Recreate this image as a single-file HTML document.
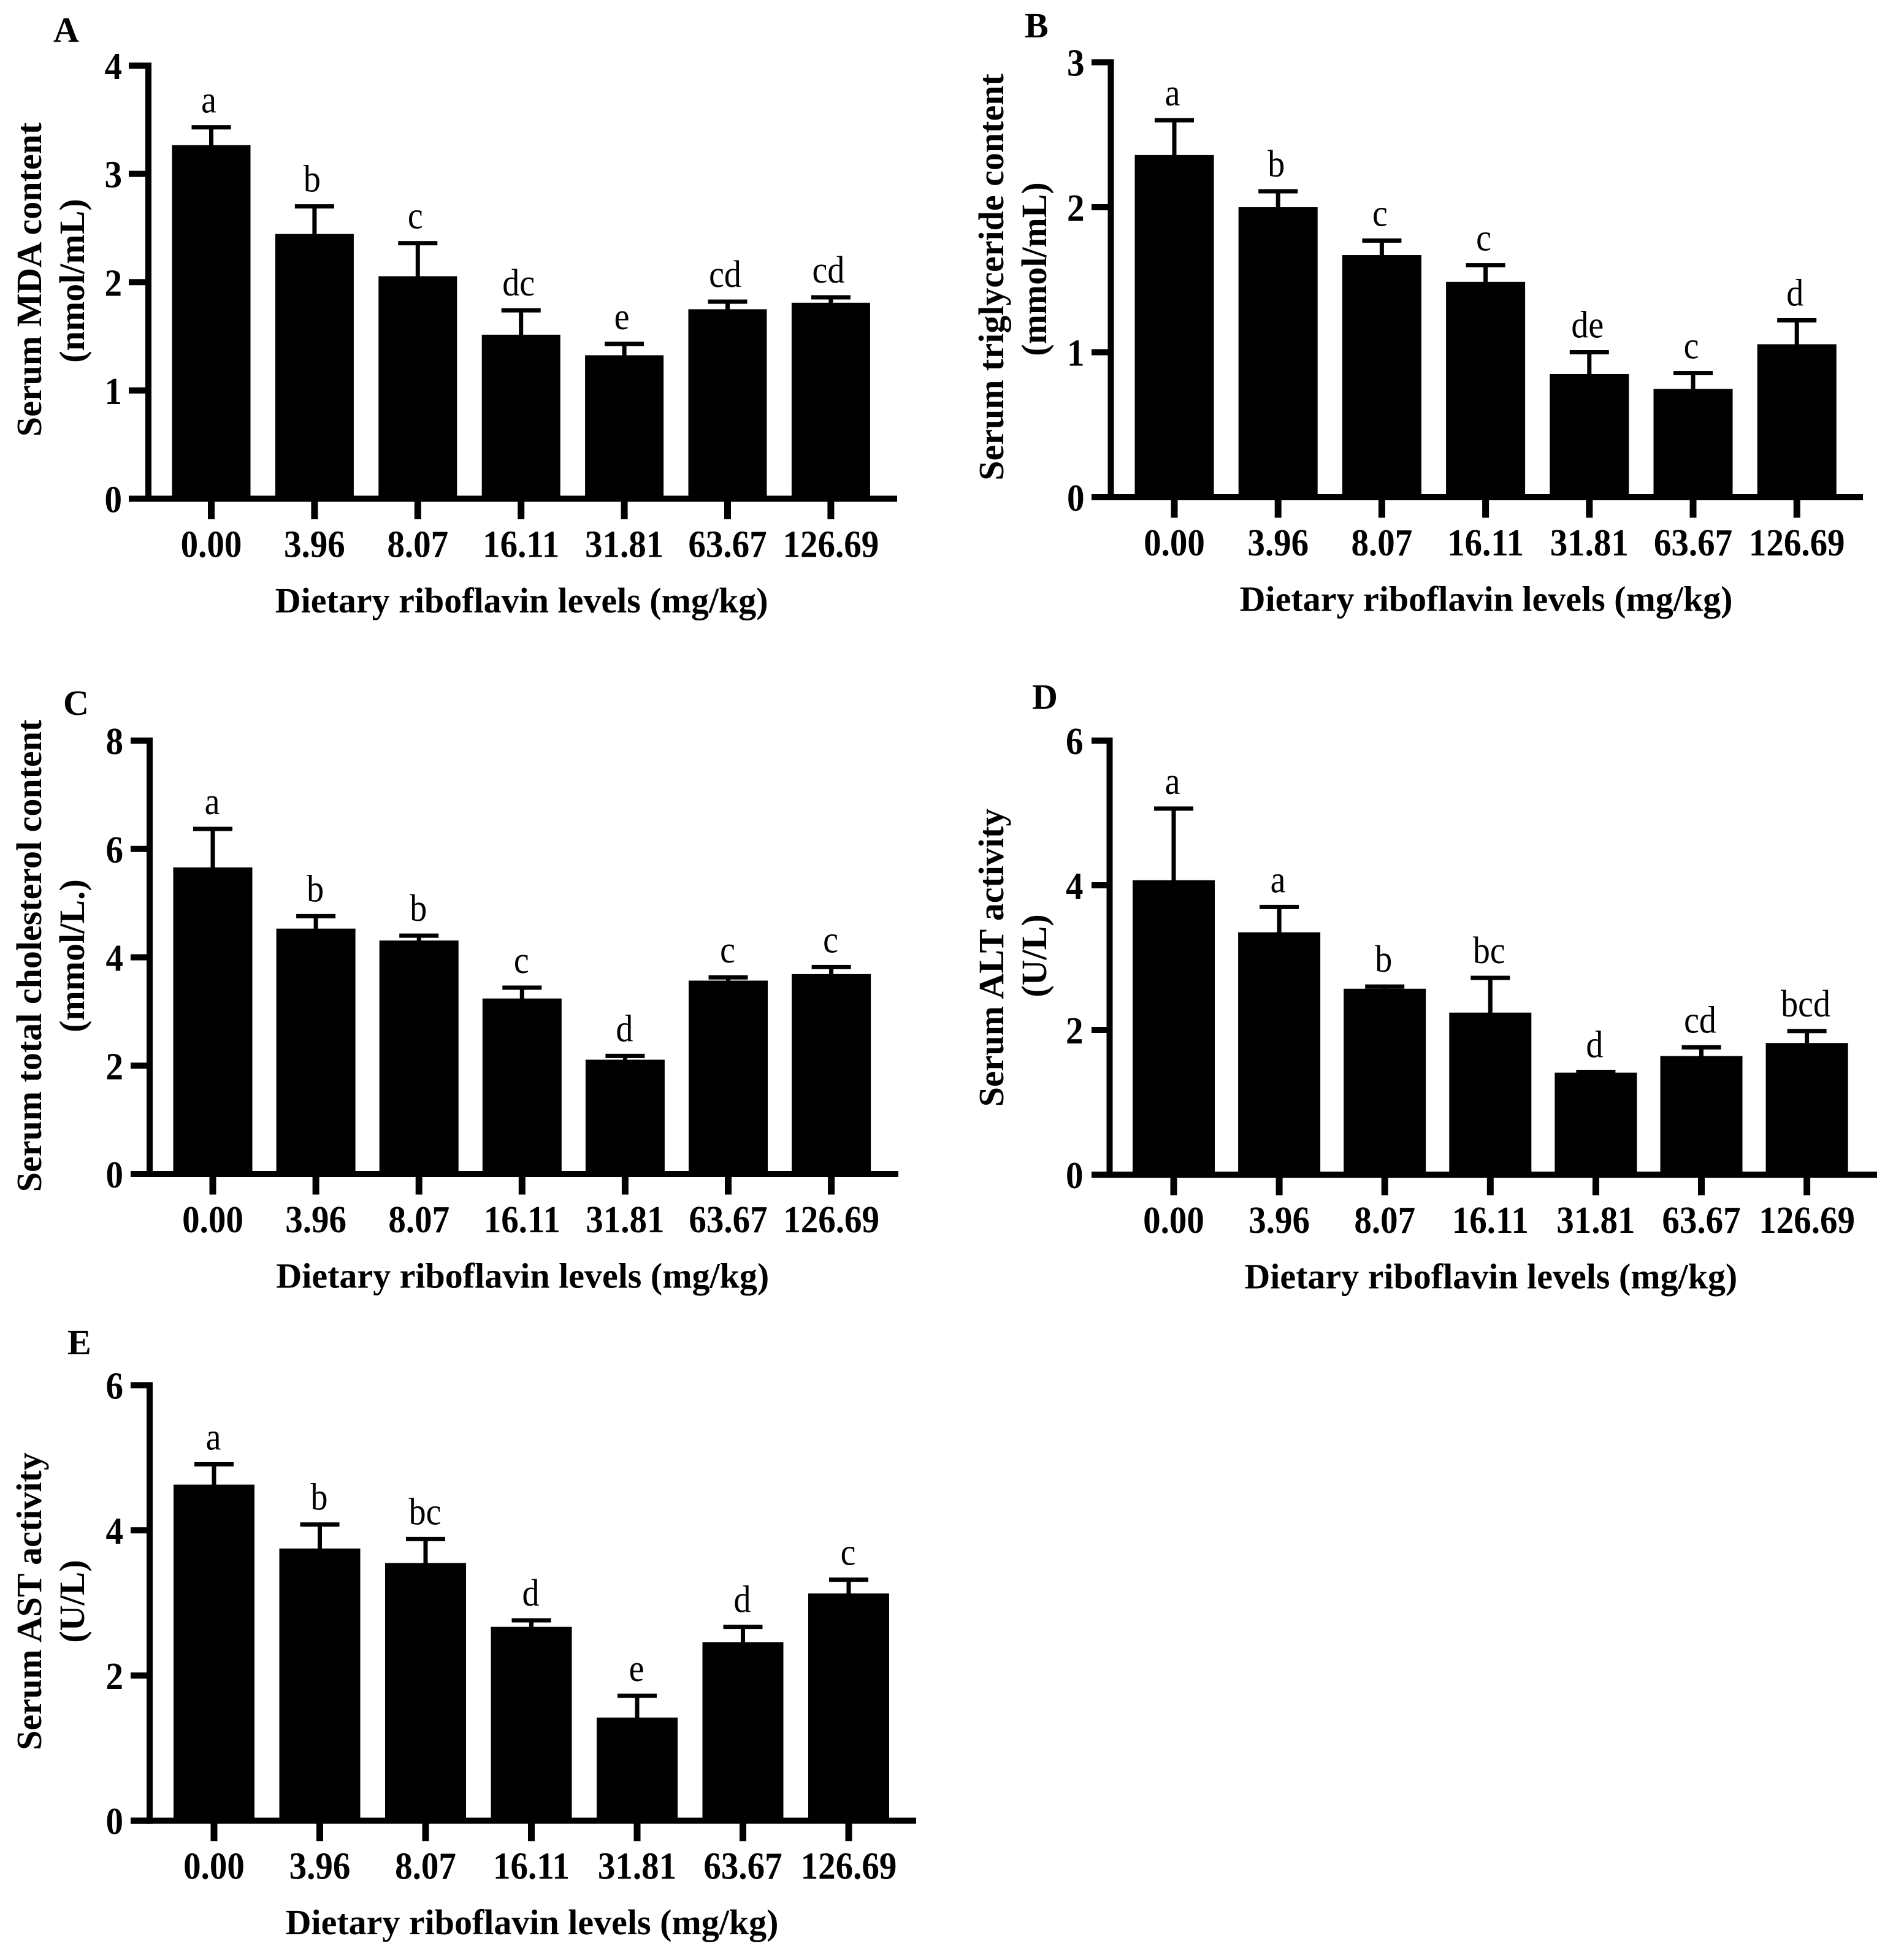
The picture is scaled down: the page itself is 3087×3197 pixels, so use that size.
<!DOCTYPE html>
<html lang="en">
<head>
<meta charset="utf-8">
<title>Serum biochemical indices versus dietary riboflavin levels</title>
<style>
html,body{margin:0;padding:0;background:#fff;}
svg{display:block;}
text{font-family:"Liberation Serif",serif;fill:#000;}
.b{font-weight:bold;}
</style>
</head>
<body>
<svg id="figure" xmlns="http://www.w3.org/2000/svg" width="3087" height="3197" viewBox="0 0 3087 3197">
<rect x="0" y="0" width="3087" height="3197" fill="#fff"/>
</svg>
<script>
const categories = ['0.00','3.96','8.07','16.11','31.81','63.67','126.69'];
const xAxisTitle = 'Dietary riboflavin levels (mg/kg)';

const panelAValues = [3.265,2.445,2.055,1.515,1.325,1.75,1.81];
const panelAErrorTops = [3.43,2.70,2.36,1.74,1.43,1.82,1.86];
const panelALetters = ['a','b','c','dc','e','cd','cd'];
const panelATicks = [0,1,2,3,4];

const panelBValues = [2.36,2.00,1.67,1.485,0.85,0.747,1.055];
const panelBErrorTops = [2.60,2.11,1.77,1.60,1.00,0.856,1.22];
const panelBLetters = ['a','b','c','c','de','c','d'];
const panelBTicks = [0,1,2,3];

const panelCValues = [5.66,4.53,4.31,3.24,2.11,3.57,3.69];
const panelCErrorTops = [6.37,4.76,4.40,3.44,2.18,3.63,3.82];
const panelCLetters = ['a','b','b','c','d','c','c'];
const panelCTicks = [0,2,4,6,8];

const panelDValues = [4.07,3.35,2.57,2.24,1.41,1.64,1.82];
const panelDErrorTops = [5.06,3.70,2.60,2.72,1.42,1.76,1.985];
const panelDLetters = ['a','a','b','bc','d','cd','bcd'];
const panelDTicks = [0,2,4,6];

const panelEValues = [4.63,3.75,3.55,2.67,1.42,2.46,3.13];
const panelEErrorTops = [4.91,4.08,3.88,2.76,1.72,2.67,3.32];
const panelELetters = ['a','b','bc','d','e','d','c'];
const panelETicks = [0,2,4,6];

const NS = 'http://www.w3.org/2000/svg';
const svg = document.getElementById('figure');

function node(parent, tag, attrs, content) {
  const el = document.createElementNS(NS, tag);
  for (const k in attrs) el.setAttribute(k, attrs[k]);
  if (content !== undefined) el.textContent = content;
  parent.appendChild(el);
  return el;
}

function tall(x, y, factor) {
  return 'translate(' + x + ',' + y + ') scale(1,' + factor + ')';
}

function drawPanel(p) {
  const group = node(svg, 'g', {});
  
  

  const maxTick = Math.max.apply(null, p.ticks);
  const yScale = v => p.y0 + (p.yTop - p.y0) * v / maxTick;
  const xScale = i => p.x0 + p.step * i;

  const letter = node(group, 'text', {x: p.letterX, y: p.letterY, 'font-size': 58, class: 'b'}, p.id);
  
  

  p.values.forEach((v, i) => {
    const cx = xScale(i);
    const top = yScale(v);
    const errTop = yScale(p.errors[i]);

    const stem = node(group, 'rect', {x: cx - 3.5, y: errTop, width: 7, height: top - errTop + 1, fill: '#000'});
    
    

    const cap = node(group, 'rect', {x: cx - 32, y: errTop - 3.5, width: 64, height: 7, fill: '#000'});
    
    

    const bar = node(group, 'rect', {x: cx - p.barW / 2, y: top, width: p.barW, height: p.y0 - top, fill: '#000'});
    
    

    const sig = node(group, 'text', {transform: tall(cx + p.sigDx, errTop - 24, 1.12), 'font-size': 56, 'text-anchor': 'middle'}, p.letters[i]);
    
    

    const tick = node(group, 'rect', {x: cx - 5.5, y: p.y0, width: 11, height: 33.5, fill: '#000'});
    
    

    const tickLabel = node(group, 'text', {transform: tall(cx, p.y0 + 95, 1.1), 'font-size': 57, 'text-anchor': 'middle', class: 'b'}, categories[i]);
    
    
  });

  const yAxis = node(group, 'rect', {x: p.axisX - 5, y: p.yTop - 5, width: 10, height: p.y0 - p.yTop + 10, fill: '#000'});
  
  

  const xAxis = node(group, 'rect', {x: p.axisLeft, y: p.y0 - 5, width: p.axisRight - p.axisLeft, height: 10, fill: '#000'});
  
  

  p.ticks.forEach(t => {
    const ty = yScale(t);
    const yTick = node(group, 'rect', {x: p.axisLeft, y: ty - 5, width: p.axisX - p.axisLeft, height: 10, fill: '#000'});
    
    

    const yLabel = node(group, 'text', {transform: tall(p.axisX - 43, ty + 22, 1.1), 'font-size': 57, 'text-anchor': 'end', class: 'b'}, String(t));
    
    
  });

  const xTitle = node(group, 'text', {x: xScale(3) + 1, y: p.y0 + 185.5, 'font-size': 58, 'text-anchor': 'middle', class: 'b'}, xAxisTitle);
  
  

  const t1 = node(group, 'text', {transform: 'translate(' + p.t1x + ',' + p.t1y + ') rotate(-90)', 'font-size': 58, 'text-anchor': 'middle', class: 'b'}, p.title1);
  
  

  const t2 = node(group, 'text', {transform: 'translate(' + p.t2x + ',' + p.t2y + ') rotate(-90)', 'font-size': 58, 'text-anchor': 'middle', class: 'b'}, p.title2);
  
  
}

drawPanel({id:'A', values:panelAValues, errors:panelAErrorTops, letters:panelALetters, ticks:panelATicks,
  x0:344.5, step:168.4, barW:128, axisX:242, axisLeft:210, axisRight:1463, yTop:107, y0:813.5, sigDx:-4,
  letterX:87, letterY:68, title1:'Serum MDA content', title2:'(nmol/mL)', t1x:67, t1y:456, t2x:137, t2y:458});

drawPanel({id:'B', values:panelBValues, errors:panelBErrorTops, letters:panelBLetters, ticks:panelBTicks,
  x0:1915, step:169.2, barW:129, axisX:1811.5, axisLeft:1780, axisRight:3038, yTop:101.5, y0:811, sigDx:-3,
  letterX:1671, letterY:61, title1:'Serum triglyceride content', title2:'(mmol/mL)', t1x:1636, t1y:452, t2x:1706, t2y:439});

drawPanel({id:'C', values:panelCValues, errors:panelCErrorTops, letters:panelCLetters, ticks:panelCTicks,
  x0:347, step:168.1, barW:129, axisX:244, axisLeft:213, axisRight:1465, yTop:1208, y0:1915, sigDx:-1,
  letterX:103, letterY:1166, title1:'Serum total cholesterol content', title2:'(mmol/L.)', t1x:67, t1y:1559, t2x:137, t2y:1559});

drawPanel({id:'D', values:panelDValues, errors:panelDErrorTops, letters:panelDLetters, ticks:panelDTicks,
  x0:1914, step:172.1, barW:134, axisX:1809.5, axisLeft:1780, axisRight:3061, yTop:1208, y0:1916, sigDx:-2,
  letterX:1683, letterY:1156, title1:'Serum ALT activity', title2:'(U/L)', t1x:1636, t1y:1562, t2x:1706, t2y:1559});

drawPanel({id:'E', values:panelEValues, errors:panelEErrorTops, letters:panelELetters, ticks:panelETicks,
  x0:349, step:172.5, barW:132, axisX:244, axisLeft:213, axisRight:1494, yTop:2259.4, y0:2969.7, sigDx:-1,
  letterX:110, letterY:2209, title1:'Serum AST activity', title2:'(U/L)', t1x:67, t1y:2612, t2x:137, t2y:2612});
</script>
</body>
</html>
